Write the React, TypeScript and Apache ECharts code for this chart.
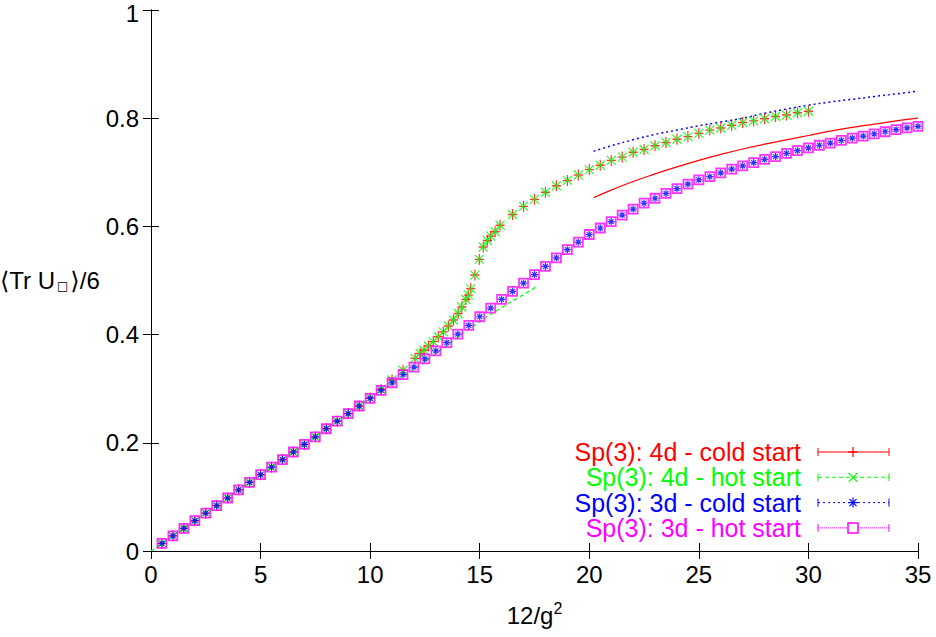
import React, { useEffect, useRef } from "react";
import * as echarts from "echarts";

// ---- data ----
const xTicks = [0, 5, 10, 15, 20, 25, 30, 35];
const yTicks = [0, 0.2, 0.4, 0.6, 0.8, 1];

const seriesNames = [
  "Sp(3): 4d - cold start",
  "Sp(3): 4d - hot start",
  "Sp(3): 3d - cold start",
  "Sp(3): 3d - hot start",
];

// 3d hot start (magenta squares)
const hot3dX = [
  0.5, 1, 1.5, 2, 2.5, 3, 3.5, 4, 4.5, 5, 5.5, 6, 6.5, 7, 7.5, 8, 8.5, 9, 9.5, 10,
  10.5, 11, 11.5, 12, 12.5, 13, 13.5, 14, 14.5, 15, 15.5, 16, 16.5, 17, 17.5, 18,
  18.5, 19, 19.5, 20, 20.5, 21, 21.5, 22, 22.5, 23, 23.5, 24, 24.5, 25, 25.5, 26,
  26.5, 27, 27.5, 28, 28.5, 29, 29.5, 30, 30.5, 31, 31.5, 32, 32.5, 33, 33.5, 34,
  34.5, 35,
];
const hot3dY = [
  0.014, 0.028, 0.042, 0.056, 0.07, 0.084, 0.098, 0.113, 0.127, 0.141, 0.155, 0.169,
  0.183, 0.197, 0.211, 0.226, 0.24, 0.254, 0.268, 0.282, 0.297, 0.311, 0.326, 0.34,
  0.355, 0.37, 0.385, 0.401, 0.417, 0.433, 0.449, 0.465, 0.48, 0.495, 0.511, 0.526,
  0.542, 0.557, 0.571, 0.585, 0.597, 0.609, 0.621, 0.632, 0.643, 0.652, 0.661, 0.67,
  0.678, 0.686, 0.692, 0.699, 0.706, 0.712, 0.718, 0.724, 0.729, 0.735, 0.74, 0.745,
  0.75, 0.754, 0.759, 0.763, 0.767, 0.771, 0.775, 0.779, 0.782, 0.785,
];
// 3d cold start (blue stars) sits exactly on the hot-start points
const cold3dX = hot3dX;
const cold3dY = hot3dY;

// 4d hot start (green crosses)
const hot4dX = [
  0.5, 1, 1.5, 2, 2.5, 3, 3.5, 4, 4.5, 5, 5.5, 6, 6.5, 7, 7.5, 8, 8.5, 9, 9.5, 10,
  10.5, 11, 11.5, 12.05, 12.28, 12.46, 12.66, 12.88, 13.11, 13.34, 13.57, 13.8,
  14.02, 14.18, 14.37, 14.48, 14.59, 14.78, 14.98, 15.16, 15.35, 15.5, 15.7, 15.93,
  16.5, 17, 17.5, 18, 18.5, 19, 19.5, 20, 20.5, 21, 21.5, 22, 22.5, 23, 23.5, 24,
  24.5, 25, 25.5, 26, 26.5, 27, 27.5, 28, 28.5, 29, 29.5, 30,
];
const hot4dY = [
  0.014, 0.028, 0.042, 0.056, 0.07, 0.084, 0.098, 0.113, 0.127, 0.141, 0.155, 0.169,
  0.183, 0.197, 0.211, 0.226, 0.24, 0.254, 0.268, 0.283, 0.299, 0.316, 0.334, 0.356,
  0.365, 0.371, 0.379, 0.387, 0.396, 0.405, 0.416, 0.427, 0.439, 0.451, 0.465, 0.473,
  0.485, 0.51, 0.539, 0.562, 0.574, 0.582, 0.59, 0.602, 0.622, 0.637, 0.65, 0.663,
  0.675, 0.685, 0.695, 0.705, 0.713, 0.722, 0.728, 0.737, 0.742, 0.749, 0.755, 0.761,
  0.766, 0.772, 0.778, 0.782, 0.787, 0.792, 0.795, 0.799, 0.803, 0.806, 0.81, 0.813,
];
// 4d cold start (red plus) coincides with the hot-start points
const cold4dX = hot4dX;
const cold4dY = hot4dY;

// curves drawn without a key entry
const fitRedX = [20.2, 21, 22, 23, 24, 25, 26, 27, 28, 29, 30, 31, 32, 33, 34, 35];
const fitRedY = [0.653, 0.667, 0.683, 0.697, 0.71, 0.722, 0.733, 0.743, 0.752, 0.76, 0.768, 0.776, 0.783, 0.789, 0.795, 0.8];
const fitBlueX = [20.2, 21, 22, 23, 24, 25, 26, 27, 28, 29, 30, 31, 32, 33, 34, 35];
const fitBlueY = [0.739, 0.749, 0.76, 0.77, 0.778, 0.786, 0.793, 0.8, 0.809, 0.817, 0.824, 0.83, 0.835, 0.84, 0.845, 0.85];
const fitGreenX = [0, 2, 4, 6, 8, 10, 11, 12, 13, 14, 15, 16, 17, 17.6];
const fitGreenY = [0, 0.056, 0.113, 0.169, 0.226, 0.282, 0.309, 0.336, 0.365, 0.395, 0.424, 0.45, 0.474, 0.489];

// ---- styling ----
const RED = "#ff0000";
const GREEN = "#00ff00";
const BLUE = "#0000ff";
const MAGENTA = "#ff00ff";
const FONT = '"Liberation Sans", Arial, "DejaVu Sans", sans-serif';

const PLUS = "path://M0,5L10,5M5,0L5,10";
const CROSS = "path://M0,0L10,10M0,10L10,0";
const STAR = "path://M0,5L10,5M5,0L5,10M1.5,1.5L8.5,8.5M1.5,8.5L8.5,1.5";

const pairs = (xs: number[], ys: number[]) => xs.map((x, i) => [x, ys[i]]);

const GRID = { left: 151, top: 10, width: 767, height: 541 };

function legendGraphics() {
  const colors = [RED, GREEN, BLUE, MAGENTA];
  const dashes: any[] = [null, [4, 3], [2, 3], [1, 1]];
  const marks = ["plus", "cross", "star", "square"];
  const els: any[] = [];
  const x1 = 818, x2 = 889, xm = 853;
  seriesNames.forEach((name, i) => {
    const y = 452 + i * 25.3;
    const c = colors[i];
    els.push({
      type: "text",
      x: 801,
      y,
      style: { text: name, fill: c, font: `25px ${FONT}`, textAlign: "right", textVerticalAlign: "middle" },
    });
    els.push({ type: "line", shape: { x1, y1: y, x2, y2: y }, style: { stroke: c, lineWidth: 1, lineDash: dashes[i] } });
    els.push({ type: "line", shape: { x1, y1: y - 4, x2: x1, y2: y + 4 }, style: { stroke: c, lineWidth: 1 } });
    els.push({ type: "line", shape: { x1: x2, y1: y - 4, x2, y2: y + 4 }, style: { stroke: c, lineWidth: 1 } });
    const s = 5;
    const m = marks[i];
    if (m === "plus" || m === "star") {
      els.push({ type: "line", shape: { x1: xm, y1: y - s, x2: xm, y2: y + s }, style: { stroke: c, lineWidth: 1.2 } });
      els.push({ type: "line", shape: { x1: xm - s, y1: y, x2: xm + s, y2: y }, style: { stroke: c, lineWidth: 1.2 } });
    }
    if (m === "cross" || m === "star") {
      const d = m === "star" ? 3.5 : 4.5;
      els.push({ type: "line", shape: { x1: xm - d, y1: y - d, x2: xm + d, y2: y + d }, style: { stroke: c, lineWidth: 1.2 } });
      els.push({ type: "line", shape: { x1: xm - d, y1: y + d, x2: xm + d, y2: y - d }, style: { stroke: c, lineWidth: 1.2 } });
    }
    if (m === "square") {
      els.push({ type: "rect", shape: { x: xm - 5, y: y - 5, width: 10, height: 10 }, style: { fill: "#fff", stroke: c, lineWidth: 1.5 } });
    }
  });
  return els;
}

export default function App() {
  const ref = useRef<HTMLDivElement>(null);

  useEffect(() => {
    if (!ref.current) return;
    const chart = echarts.init(ref.current, undefined, { renderer: "svg" });

    const axisLine = { show: true, lineStyle: { color: "#000", width: 1 } };
    const tick = { show: true, inside: true, length: 8, lineStyle: { color: "#000", width: 1 } };

    const option: any = {
      animation: false,
      backgroundColor: "#fff",
      grid: { ...GRID, containLabel: false, outerBoundsMode: "none" },
      xAxis: [
        {
          type: "value",
          min: xTicks[0],
          max: xTicks[xTicks.length - 1],
          interval: 5,
          position: "bottom",
          axisLine,
          axisTick: tick,
          splitLine: { show: false },
          axisLabel: { color: "#000", fontSize: 24, fontFamily: FONT, margin: 11 },
          name: "{a|12/g}{s|2}",
          nameLocation: "middle",
          nameGap: 50,
          nameTextStyle: {
            rich: {
              a: { fontSize: 24, fontFamily: FONT, color: "#000", lineHeight: 28 },
              s: { fontSize: 16, fontFamily: FONT, color: "#000", lineHeight: 28, padding: [0, 0, 14, 0] },
            },
          },
        },
        {
          type: "value",
          min: xTicks[0],
          max: xTicks[xTicks.length - 1],
          interval: 5,
          position: "top",
          axisLine,
          axisTick: tick,
          splitLine: { show: false },
          axisLabel: { show: false },
        },
      ],
      yAxis: [
        {
          type: "value",
          min: yTicks[0],
          max: yTicks[yTicks.length - 1],
          interval: 0.2,
          position: "left",
          axisLine,
          axisTick: tick,
          splitLine: { show: false },
          axisLabel: {
            color: "#000",
            fontSize: 24,
            fontFamily: FONT,
            margin: 12,
            formatter: (v: number) => (v === yTicks[yTicks.length - 1] ? `{t|${v}}` : `${v}`),
            rich: { t: { fontSize: 24, fontFamily: FONT, color: "#000", padding: [7, 0, 0, 0] } },
          },
          name: "{a|⟨}{a|Tr U}{b|□}{a|⟩}{a|/6}",
          nameLocation: "middle",
          nameRotate: 0,
          nameGap: 7,
          nameTextStyle: {
            rich: {
              a: { fontSize: 24, fontFamily: FONT, color: "#000", lineHeight: 28 },
              b: { fontSize: 12, fontFamily: '"DejaVu Sans", sans-serif', color: "#000", lineHeight: 28, padding: [10, 2, 0, 2] },
            },
          },
        },
        {
          type: "value",
          min: yTicks[0],
          max: yTicks[yTicks.length - 1],
          interval: 0.2,
          position: "right",
          axisLine,
          axisTick: tick,
          splitLine: { show: false },
          axisLabel: { show: false },
        },
      ],
      series: [
        {
          type: "line",
          data: pairs(fitRedX, fitRedY),
          showSymbol: false,
          symbol: "none",
          smooth: true,
          silent: true,
          lineStyle: { color: RED, width: 1.2 },
          z: 1,
        },
        {
          type: "line",
          data: pairs(fitGreenX, fitGreenY),
          showSymbol: false,
          symbol: "none",
          smooth: true,
          silent: true,
          lineStyle: { color: GREEN, width: 1.2, type: [4, 3] },
          z: 1,
        },
        {
          type: "line",
          data: pairs(fitBlueX, fitBlueY),
          showSymbol: false,
          symbol: "none",
          smooth: true,
          silent: true,
          lineStyle: { color: BLUE, width: 1.5, type: [2, 3] },
          z: 1,
        },
        {
          name: seriesNames[0],
          type: "scatter",
          data: pairs(cold4dX, cold4dY),
          symbol: PLUS,
          symbolSize: [9, 11],
          itemStyle: { color: "transparent", borderColor: RED, borderWidth: 1.3 },
          z: 2,
        },
        {
          name: seriesNames[1],
          type: "scatter",
          data: pairs(hot4dX, hot4dY),
          symbol: CROSS,
          symbolSize: 9,
          itemStyle: { color: "transparent", borderColor: GREEN, borderWidth: 1.3 },
          z: 3,
        },
        {
          name: seriesNames[3],
          type: "scatter",
          data: pairs(hot3dX, hot3dY),
          symbol: "rect",
          symbolSize: 9,
          itemStyle: { color: "transparent", borderColor: MAGENTA, borderWidth: 1.8 },
          z: 4,
        },
        {
          name: seriesNames[2],
          type: "scatter",
          data: pairs(cold3dX, cold3dY),
          symbol: STAR,
          symbolSize: 7,
          itemStyle: { color: "transparent", borderColor: BLUE, borderWidth: 1.2 },
          z: 5,
        },
      ],
      graphic: legendGraphics(),
    };

    chart.setOption(option);
    return () => chart.dispose();
  }, []);

  return (
    <div
      ref={ref}
      style={{ position: "absolute", left: 0, top: 0, width: 936, height: 637, background: "#fff" }}
    />
  );
}
